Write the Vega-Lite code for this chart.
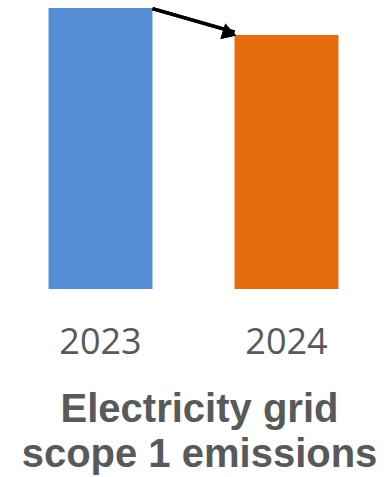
{
  "$schema": "https://vega.github.io/schema/vega-lite/v6.json",
  "width": 387,
  "height": 289,
  "autosize": {"type": "none"},
  "padding": {"left": 0, "top": 0, "right": 0, "bottom": 188},
  "background": "white",
  "config": {"view": {"stroke": null}},
  "title": {
    "text": ["Electricity grid", "scope 1 emissions"],
    "orient": "bottom",
    "anchor": "middle",
    "frame": "group",
    "font": "Liberation Sans",
    "fontWeight": "bold",
    "fontSize": 40,
    "lineHeight": 45,
    "color": "#595959",
    "offset": 30,
    "dx": 6
  },
  "data": {"values": [
    {"year": "2023", "value": 100},
    {"year": "2024", "value": 90.4}
  ]},
  "layer": [
    {
      "mark": {"type": "bar"},
      "encoding": {
        "x": {
          "field": "year", "type": "nominal",
          "scale": {"paddingInner": 0.441, "paddingOuter": 0.261},
          "axis": {
            "title": null, "domain": false, "ticks": false, "grid": false,
            "labelAngle": 0, "labelFont": "Open Sans", "labelFontSize": 36,
            "labelColor": "#595959", "labelPadding": 36
          }
        },
        "y": {
          "field": "value", "type": "quantitative",
          "scale": {"domain": [0, 102.85], "nice": false},
          "axis": null
        },
        "color": {
          "field": "year", "type": "nominal",
          "scale": {"domain": ["2023", "2024"], "range": ["#558ED5", "#E46C0A"]},
          "legend": null
        }
      }
    },
    {
      "mark": {"type": "rule", "color": "black", "strokeWidth": 3.5},
      "encoding": {
        "x": {"datum": "2023", "bandPosition": 1},
        "x2": {"datum": "2024", "bandPosition": 0, "xOffset": -8},
        "y": {"datum": 99.8},
        "y2": {"datum": 91.4}
      }
    },
    {
      "mark": {"type": "point", "shape": "triangle-right", "filled": true, "color": "black", "size": 260, "angle": 17.4, "opacity": 1},
      "encoding": {
        "x": {"datum": "2024", "bandPosition": 0},
        "xOffset": {"value": -5},
        "y": {"datum": 91.0}
      }
    }
  ]
}
